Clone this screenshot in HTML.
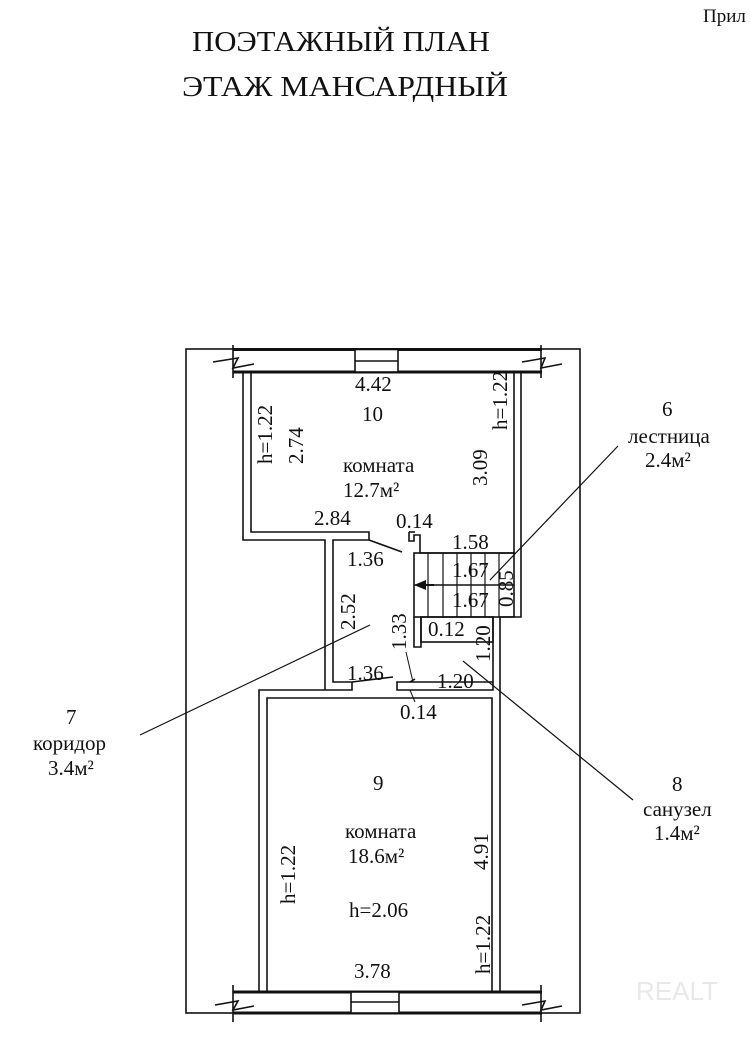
<!DOCTYPE html>
<html><head><meta charset="utf-8"><style>
html,body{margin:0;padding:0;background:#fff;width:750px;height:1041px;overflow:hidden}
svg{display:block}
text{font-family:"Liberation Serif","Noto Serif CJK SC",serif;fill:#111}
</style></head><body>
<svg width="750" height="1041" viewBox="0 0 750 1041" xmlns="http://www.w3.org/2000/svg">
<text x="192" y="51" font-size="29" textLength="298" lengthAdjust="spacingAndGlyphs">ПОЭТАЖНЫЙ ПЛАН</text>
<text x="182" y="96" font-size="29" textLength="326" lengthAdjust="spacingAndGlyphs">ЭТАЖ  МАНСАРДНЫЙ</text>
<text x="703" y="22" font-size="19">Прил</text>

<g fill="none" stroke="#111" stroke-width="1.6">
<rect x="186" y="349" width="394" height="664"/>
<line x1="233" y1="349.5" x2="542" y2="349.5" stroke-width="3"/>
<line x1="233" y1="372" x2="542" y2="372" stroke-width="3"/>
<line x1="233" y1="345" x2="233" y2="378"/><line x1="541" y1="345" x2="541" y2="378"/>
<polyline points="213,362 238,358 233,368 254,364"/>
<polyline points="522,362 545,358 541,368 562,364"/>
<rect x="355" y="349.5" width="43" height="22.5" fill="#fff"/>
<line x1="355" y1="361" x2="398" y2="361"/>
<line x1="233" y1="992" x2="542" y2="992" stroke-width="3"/>
<line x1="233" y1="1013" x2="542" y2="1013" stroke-width="3"/>
<line x1="233" y1="985" x2="233" y2="1022"/><line x1="541" y1="985" x2="541" y2="1022"/>
<polyline points="215,1005 238,1001 233,1010 254,1006"/>
<polyline points="522,1005 545,1001 541,1010 562,1006"/>
<rect x="351" y="992" width="48" height="21" fill="#fff"/>
<line x1="351" y1="1002" x2="399" y2="1002"/>
<polyline points="243,372 243,540 325,540 325,690"/>
<polyline points="251,372 251,532 369,532 369,540 333,540 333,682 352,682 352,690 259,690 259,992"/>
<polyline points="267,992 267,698 492,698 492,992"/>
<polyline points="514,372 514,553 420,553 420,535 414,535 414,541 409,541 409,532"/>
<line x1="409" y1="532" x2="415" y2="532"/>
<polyline points="521,372 521,617 500,617 500,992"/>
<rect x="414" y="553" width="100" height="64"/>
<line x1="414" y1="585" x2="514" y2="585"/>
<g stroke-width="1.2"><line x1="428" y1="553" x2="428" y2="617"/><line x1="443" y1="553" x2="443" y2="617"/><line x1="457" y1="553" x2="457" y2="617"/><line x1="471" y1="553" x2="471" y2="617"/><line x1="485" y1="553" x2="485" y2="617"/><line x1="499" y1="553" x2="499" y2="617"/></g>
<line x1="434" y1="585" x2="420" y2="585" stroke-width="2"/>
<polyline points="414,617 414,647 421,647 421,617"/>
<rect x="421" y="617" width="72" height="25"/>
<polyline points="493,617 493,690 397,690 397,682 493,682"/>
<line x1="410" y1="682" x2="415" y2="679"/>
<line x1="369" y1="540" x2="402" y2="552"/>
<line x1="352" y1="682" x2="393" y2="677"/>
<line x1="406" y1="652" x2="413" y2="682" stroke-width="1"/>
<line x1="410" y1="690" x2="415" y2="702" stroke-width="1"/>
<g stroke-width="1.2">
<line x1="618" y1="446" x2="490" y2="580"/>
<line x1="140" y1="735" x2="370" y2="625"/>
<line x1="463" y1="661" x2="633" y2="800"/>
</g>
</g>
<polygon points="414,585 426,580 426,590" fill="#111"/>

<g font-size="21">
<text x="355" y="391">4.42</text>
<text x="362" y="421">10</text>
<text x="343" y="472">комната</text>
<text x="343" y="497">12.7м²</text>
<text x="314" y="525">2.84</text>
<text x="396" y="528">0.14</text>
<text x="452" y="549">1.58</text>
<text x="347" y="566">1.36</text>
<text x="452" y="577">1.67</text>
<text x="452" y="607">1.67</text>
<text x="428" y="636">0.12</text>
<text x="347" y="680">1.36</text>
<text x="437" y="688">1.20</text>
<text x="400" y="719">0.14</text>
<text x="373" y="790">9</text>
<text x="345" y="838">комната</text>
<text x="348" y="863">18.6м²</text>
<text x="349" y="917">h=2.06</text>
<text x="354" y="978">3.78</text>
<text x="662" y="416">6</text>
<text x="628" y="443">лестница</text>
<text x="645" y="467">2.4м²</text>
<text x="66" y="724">7</text>
<text x="33" y="750">коридор</text>
<text x="48" y="775">3.4м²</text>
<text x="672" y="791">8</text>
<text x="643" y="816">санузел</text>
<text x="654" y="840">1.4м²</text>
</g>
<g font-size="21">
<text transform="translate(272,464) rotate(-90)">h=1.22</text>
<text transform="translate(303,464) rotate(-90)">2.74</text>
<text transform="translate(487,486) rotate(-90)">3.09</text>
<text transform="translate(507,430) rotate(-90)">h=1.22</text>
<text transform="translate(513,607) rotate(-90)">0.85</text>
<text transform="translate(355,630) rotate(-90)">2.52</text>
<text transform="translate(406,650) rotate(-90)">1.33</text>
<text transform="translate(490,662) rotate(-90)">1.20</text>
<text transform="translate(295,904) rotate(-90)">h=1.22</text>
<text transform="translate(488,870) rotate(-90)">4.91</text>
<text transform="translate(490,974) rotate(-90)">h=1.22</text>
</g>
<text x="636" y="1000" font-size="26" style="fill:#e8e8e8;font-family:'Liberation Sans',sans-serif">REALT</text>
</svg>
</body></html>
